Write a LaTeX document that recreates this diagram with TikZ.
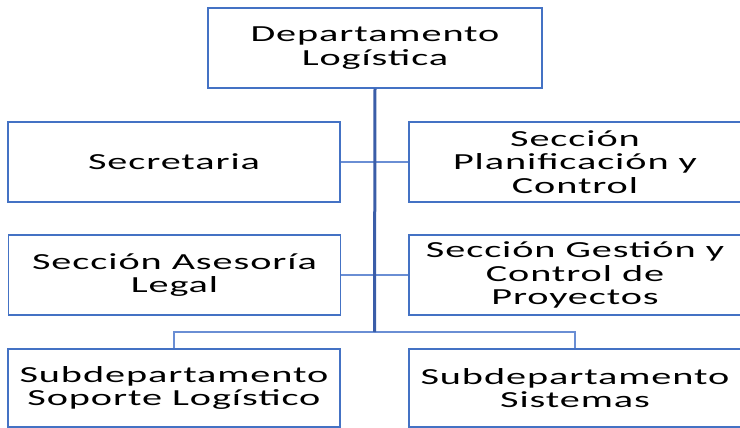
\documentclass[tikz,border=0pt]{standalone}
\usepackage{fontspec}
\setmainfont[FakeStretch=1.75,LetterSpace=4]{Carlito}
\definecolor{boxblue}{HTML}{4472C4}
\definecolor{trunkblue}{HTML}{3A5DA8}
\definecolor{linkblue}{HTML}{6A8ED4}
\begin{document}
\begin{tikzpicture}[x=1pt,y=-1pt,
  orgbox/.style={draw=boxblue,line width=1.5pt,fill=white,inner sep=0pt,
    minimum width=#1,minimum height=80pt,align=center,
    font=\fontsize{23pt}{23.5pt}\selectfont},
  orgbox/.default=332pt,
  trunk/.style={draw=trunkblue,line width=3pt},
  link/.style={draw=linkblue,line width=1.3pt}]
\useasboundingbox (0,0) rectangle (740,428);
\begin{scope}
\clip (0,0) rectangle (740,428);
\node[orgbox=334pt] (top) at (375,48) {Departamento\\Logística};
\node[orgbox] (sec) at (174,162) {Secretaria};
\node[orgbox] (plan) at (575,162) {Sección\\Planificación y\\Control};
\node[orgbox] (ase) at (174.5,275) {Sección Asesoría\\Legal};
\node[orgbox] (ges) at (575,275) {Sección Gestión y\\Control de\\Proyectos};
\node[orgbox,minimum height=78pt] (sub1) at (174,388) {Subdepartamento\\Soporte Logístico};
\node[orgbox,minimum height=78pt] (sub2) at (575,388) {Subdepartamento\\Sistemas};
\coordinate (j) at (374.5,332);
\draw[link] (sec.east) -- (plan.west);
\draw[link] (ase.east) -- (ges.west);
\draw[link] (j) -| (sub1.north);
\draw[link] (j) -| (sub2.north);
\draw[trunk] (top.south) -- (j);
\end{scope}
\end{tikzpicture}
\end{document}
